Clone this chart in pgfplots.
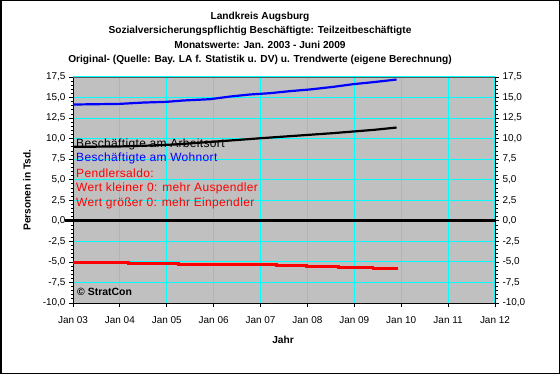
\documentclass[border=0pt]{standalone}
\usepackage{pgfplots}
\pgfplotsset{compat=1.18}
\usepackage{fontspec}
\setmainfont{Liberation Sans}
\newfontfamily\annfont[LetterSpace=3]{Liberation Sans}
\definecolor{plotgray}{RGB}{192,192,192}
\definecolor{gridcyan}{RGB}{0,255,255}
\definecolor{xred}{RGB}{255,0,0}
\definecolor{xblue}{RGB}{0,0,255}
\begin{document}
\begin{tikzpicture}[x=1bp,y=1bp]
\path[use as bounding box] (0,0) rectangle (560,374);
\fill[white] (0,0) rectangle (560,374);
\draw[black, line width=1.5bp] (0.75,0.75) rectangle (559.25,373.25);
\pgfplotsset{common/.style={
  scale only axis, width=422bp, height=226bp,
  at={(73bp,71bp)}, anchor=south west,
  xmin=2003, xmax=2012, ymin=-10, ymax=17.5,
  ytick={-10,-7.5,...,17.5},
  tick align=outside, major tick length=4bp, minor tick length=2.5bp,
  every tick/.style={black, line width=0.8bp},
  tick label style={font=\fontsize{10}{12}\selectfont},
  yticklabel style={/pgf/number format/fixed, /pgf/number format/fixed zerofill, /pgf/number format/precision=1, /pgf/number format/use comma, /pgf/number format/assume math mode=true},
  minor y tick num=4,
}}
\begin{axis}[common,
  axis background/.style={fill=plotgray},
  axis line style={black, line width=0.8bp},
  xtick={2003,...,2012},
  xticklabels={Jan 03,Jan 04,Jan 05,Jan 06,Jan 07,Jan 08,Jan 09,Jan 10,Jan 11,Jan 12},
  minor x tick num=11,
  xtick pos=lower, ytick pos=left,
  grid=major, major grid style={gridcyan, line width=1bp},
  xticklabel style={yshift=-6bp},
  clip=false,
]
\addplot[black, line width=3bp] coordinates {(2002.83,0) (2012,0)};
\addplot[xblue, line width=2.2bp] coordinates {
(2003.0,14.15) (2004.0,14.23) (2004.5,14.39) (2005.0,14.48) (2005.35,14.64)
(2005.92,14.80) (2006.35,15.12) (2006.77,15.37) (2007.2,15.53) (2007.63,15.78)
(2008.05,15.98) (2008.55,16.30) (2008.98,16.63) (2009.4,16.87) (2009.9,17.19)};
\addplot[black, line width=2.2bp] coordinates {
(2003.0,9.0) (2004.0,9.05) (2004.6,9.15) (2005.2,9.3) (2005.8,9.55) (2006.3,9.75)
(2007.0,10.05) (2007.5,10.25) (2008.0,10.45) (2008.55,10.67) (2008.98,10.87)
(2009.42,11.07) (2009.9,11.35)};
\addplot[xred, line width=2.4bp, const plot] coordinates {
(2003.0,-5.07) (2004.18,-5.19) (2005.25,-5.31) (2007.34,-5.43) (2007.98,-5.55)
(2008.66,-5.68) (2009.40,-5.80) (2009.94,-5.80)};
\end{axis}
\begin{axis}[common,
  axis x line=none, axis y line*=right,
  axis line style={black, line width=0.8bp},
]
\end{axis}
\draw[gray!70!black, line width=0.8bp] (73,297) -- (495,297);
\begin{scope}[every node/.style={anchor=base, font=\bfseries\fontsize{10.2}{12}\selectfont, inner sep=0pt}]
\node at (260,355) {Landkreis Augsburg};
\node at (260,340.5) {Sozialversicherungspflichtig Beschäftigte: Teilzeitbeschäftigte};
\node at (260,326) {Monatswerte: Jan. 2003 - Juni 2009};
\node at (260,311.5) {Original- (Quelle: Bay. LA f. Statistik u. DV) u. Trendwerte (eigene Berechnung)};
\end{scope}
\node[font=\bfseries\fontsize{10.2}{12}\selectfont] at (283,34) {Jahr};
\node[rotate=90, font=\bfseries\fontsize{10.2}{12}\selectfont] at (27,184) {Personen in Tsd.};
\begin{scope}[every node/.style={anchor=west, font=\annfont\fontsize{12}{14}\selectfont, inner sep=0pt}]
\node[text=black] at (76,230) {Beschäftigte am Arbeitsort};
\node[text=xblue] at (76,216) {Beschäftigte am Wohnort};
\node[text=xred] at (76,201) {Pendlersaldo:};
\node[text=xred] at (76,186) {Wert kleiner 0: mehr Auspendler};
\node[text=xred] at (76,171) {Wert größer 0: mehr Einpendler};
\end{scope}
\node[anchor=west, inner sep=0pt, font=\bfseries\fontsize{10.5}{12}\selectfont] at (77,82) {© StratCon};
\end{tikzpicture}
\end{document}
